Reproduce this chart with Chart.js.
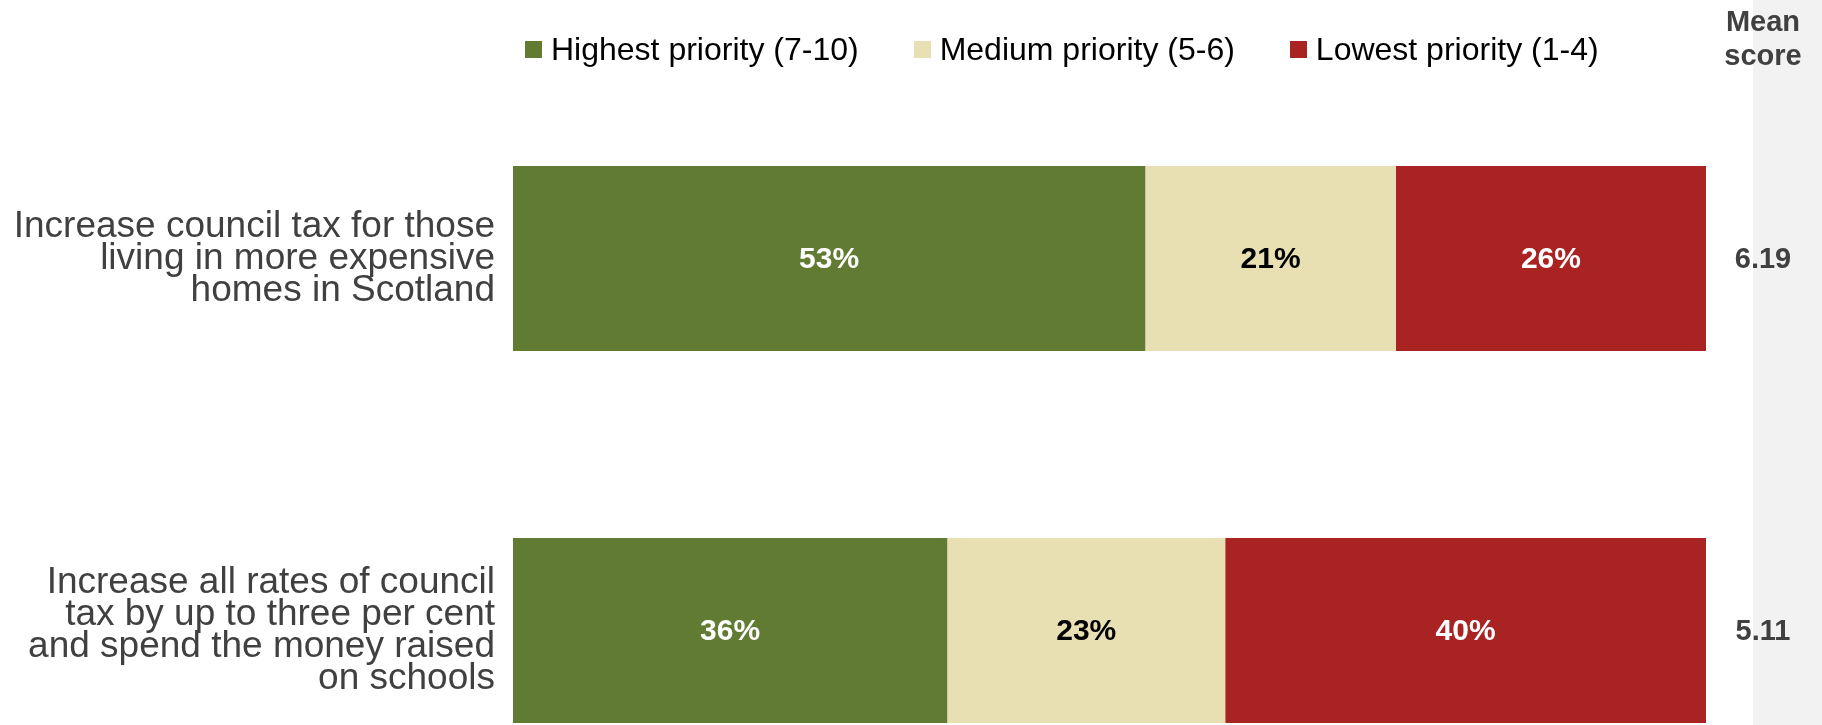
<!DOCTYPE html>
<html>
<head>
<meta charset="utf-8">
<script src="https://cdn.jsdelivr.net/npm/chart.js@4.4.1/dist/chart.umd.min.js"></script>
<style>
  html, body { margin: 0; padding: 0; background: #fff; overflow: hidden; }
  #wrap { position: relative; width: 1822px; height: 725px; overflow: hidden; }
  #chart { display: block; }
  #legend {
    position: absolute; left: 525px; top: 31px; display: flex; align-items: center;
    font: 32px "Liberation Sans", Arial, sans-serif; color: #000; z-index: 2;
  }
  #legend .item { display: flex; align-items: center; margin-right: 55px; }
  #legend .box { width: 17px; height: 17px; margin-right: 9px; }
</style>
</head>
<body>
<div id="wrap">
  <div id="legend"></div>
  <canvas id="chart" width="1822" height="820"></canvas>
</div>
<script>
// 設問（y軸ラベル、複数行）
const categories = [
  ["Increase council tax for those", "living in more expensive", "homes in Scotland"],
  ["Increase all rates of council", "tax by up to three per cent", "and spend the money raised", "on schools"],
];

// 系列
const seriesNames = ["Highest priority (7-10)", "Medium priority (5-6)", "Lowest priority (1-4)"];
const highest = [53, 36.4];
const medium = [21, 23.3];
const lowest = [26, 40.3];
const meanScores = [6.19, 5.11];

const colors = ["#617b33", "#e8e0b3", "#a92323"];
const labelColors = ["#fff", "#000", "#fff"];
const FONT = '"Liberation Sans", Arial, sans-serif';

// 凡例（HTML）
const legendEl = document.getElementById("legend");
seriesNames.forEach((name, i) => {
  const item = document.createElement("div");
  item.className = "item";
  item.innerHTML = `<span class="box" style="background:${colors[i]}"></span><span>${name}</span>`;
  legendEl.appendChild(item);
});

// 値ラベル + Mean score 列
const extras = {
  id: "extras",
  beforeDraw(chart) {
    const { ctx, chartArea, width, height } = chart;
    ctx.save();
    ctx.fillStyle = "#f2f2f2";
    ctx.fillRect(chartArea.right + 47, 0, width - chartArea.right - 47, height);
    ctx.restore();
  },
  afterDatasetsDraw(chart) {
    const { ctx, chartArea } = chart;
    ctx.save();
    ctx.textAlign = "center";
    ctx.textBaseline = "middle";
    ctx.font = `bold 30px ${FONT}`;
    chart.data.datasets.forEach((ds, i) => {
      const meta = chart.getDatasetMeta(i);
      meta.data.forEach((bar, j) => {
        ctx.fillStyle = labelColors[i];
        ctx.fillText(Math.round(ds.data[j]) + "%", (bar.x + bar.base) / 2, bar.y + 1);
      });
    });

    // Mean score
    const cx = chartArea.right + 57;
    ctx.fillStyle = "#404040";
    ctx.font = `bold 29px ${FONT}`;
    ctx.textBaseline = "alphabetic";
    ctx.fillText("Mean", cx, 31);
    ctx.fillText("score", cx, 65);
    const y = chart.scales.y;
    ctx.textBaseline = "middle";
    meanScores.forEach((m, j) => {
      ctx.fillText(m.toFixed(2), cx, y.getPixelForValue(j) + 1);
    });
    ctx.restore();
  },
};

const ctx = document.getElementById("chart").getContext("2d");
new Chart(ctx, {
  type: "bar",
  data: {
    labels: categories,
    datasets: [
      { label: seriesNames[0], data: highest, backgroundColor: colors[0] },
      { label: seriesNames[1], data: medium, backgroundColor: colors[1] },
      { label: seriesNames[2], data: lowest, backgroundColor: colors[2] },
    ],
  },
  options: {
    indexAxis: "y",
    responsive: false,
    animation: false,
    categoryPercentage: 0.5,
    barPercentage: 0.995,
    layout: { padding: { top: 72.5, bottom: 3.5, right: 116, left: 0 } },
    plugins: {
      legend: { display: false },
      tooltip: { enabled: false },
    },
    scales: {
      x: { stacked: true, min: 0, max: 100, display: false },
      y: {
        stacked: true,
        grid: { display: false, drawTicks: false },
        border: { display: false },
        ticks: {
          color: "#404040",
          padding: 18,
          font: { family: FONT, size: 37, lineHeight: "32px" },
        },
        afterFit: (scale) => {
          scale.width = 513;
          scale.paddingTop = 0;
          scale.paddingBottom = 0;
        },
      },
    },
  },
  plugins: [extras],
});
</script>
</body>
</html>
